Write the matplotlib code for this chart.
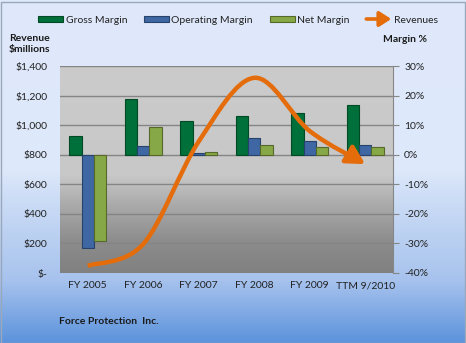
import numpy as np
import matplotlib
matplotlib.use("Agg")
import matplotlib.pyplot as plt
from matplotlib.path import Path
from matplotlib.patches import FancyArrowPatch, Rectangle
from matplotlib.legend_handler import HandlerPatch
from matplotlib.colors import to_rgb

# ---------------- data ----------------
categories = ["FY 2005", "FY 2006", "FY 2007", "FY 2008", "FY 2009", "TTM 9/2010"]
gross_margin = [6.3, 18.8, 11.4, 13.2, 14.2, 16.7]        # %
operating_margin = [-31.5, 3.0, 0.5, 5.5, 4.6, 3.2]       # %
net_margin = [-29.2, 9.3, 0.8, 3.3, 2.7, 2.7]             # %
revenues = [49, 196, 890, 1320, 960, 736]                 # $ millions
rev_ticks = [0, 200, 400, 600, 800, 1000, 1200, 1400]
margin_ticks = [-40, -30, -20, -10, 0, 10, 20, 30]

plt.rcParams['font.family'] = ['Lato', 'DejaVu Sans']
FS = 7.5
W, H = 466, 343
ORANGE = "#e46c0a"
fig = plt.figure(figsize=(W / 100, H / 100), dpi=100)

# ---- figure background gradient ----
bg = fig.add_axes([0, 0, 1, 1], zorder=-10)
bg.set_axis_off()
stops_y = [0, 170, 200, 260, 280, 300, 343]
stops_c = ["#dfe9fa", "#dde8fa", "#cbdcf6", "#b0c9ef", "#a6c2ed", "#8fb3e8", "#5a92db"]
ys = np.arange(H)
cols = np.array([to_rgb(c) for c in stops_c])
grad = np.stack([np.interp(ys, stops_y, cols[:, k]) for k in range(3)], axis=1)
bg.imshow(grad[:, None, :], aspect='auto', extent=[0, 1, 0, 1], transform=bg.transAxes)
bg.set_xlim(0, 1); bg.set_ylim(0, 1)
fig.patches.append(Rectangle((0.5 / W, 0.5 / H), 1 - 2 / W, 1 - 2 / H, transform=fig.transFigure,
                             fill=False, edgecolor="#9aa8bb", lw=1, zorder=20))

# ---- plot area ----
L, R, T, B = 60, 393, 66, 273
ax = fig.add_axes([L / W, (H - B) / H, (R - L) / W, (B - T) / H])
py = [0, 108, 135, 175, 207]
pc = ["#cbcbcb", "#c8c8c8", "#adadad", "#8c8c8c", "#808080"]
pys = np.arange(B - T)
pcols = np.array([to_rgb(c) for c in pc])
pgrad = np.stack([np.interp(pys, py, pcols[:, k]) for k in range(3)], axis=1)
ax.imshow(pgrad[:, None, :], aspect='auto', extent=[0, 1, 0, 1], transform=ax.transAxes, zorder=-5)

x = np.arange(len(categories))
bw = 0.22
kw = dict(linewidth=0.8, zorder=3)
ax.bar(x - bw, gross_margin, bw, color="#00703a", edgecolor="#004a25", **kw)
ax.bar(x, operating_margin, bw, color="#3e67a3", edgecolor="#27426b", **kw)
ax.bar(x + bw, net_margin, bw, color="#87a846", edgecolor="#56692b", **kw)

ax.set_xlim(-0.5, len(categories) - 0.5)
ax.set_ylim(margin_ticks[0], margin_ticks[-1])
ax.set_xticks(x)
ax.set_xticklabels(categories)
ax.tick_params(axis='x', length=0, pad=6, labelsize=FS, labelcolor="#222222")
ax.grid(axis='y', color="#858585", lw=1.0)
ax.set_axisbelow(True)
for s in ["left", "top", "bottom"]:
    ax.spines[s].set_visible(False)
ax.spines["right"].set_color("#868686")

# ---- revenue axis (left) ----
ax2 = ax.twinx()
ax2.patch.set_visible(False)
ax2.set_ylim(rev_ticks[0], rev_ticks[-1])
ax2.set_yticks(rev_ticks)
ax2.set_yticklabels(["$-" if t == 0 else f"${t:,}" for t in rev_ticks])
ax2.yaxis.tick_left()
ax2.tick_params(axis='y', length=0, pad=9, labelsize=FS, labelcolor="#222222",
                right=False, labelright=False, left=True, labelleft=True)
for s in ax2.spines.values():
    s.set_visible(False)

# margin axis on the right (set after twinx)
ax.set_yticks(margin_ticks)
ax.set_yticklabels([f"{t}%" for t in margin_ticks])
ax.yaxis.tick_right()
ax.tick_params(axis='y', length=4, width=0.8, color="#868686", pad=4, labelsize=FS,
               labelcolor="#222222", left=False, labelleft=False, right=True, labelright=True)

# smoothed revenue line (Excel-like smoothed line)
P = np.column_stack([x, revenues]).astype(float)
n = len(P)
verts = [P[0]]
codes = [Path.MOVETO]
for i in range(n - 1):
    p0 = P[i - 1] if i > 0 else P[i]
    p1, p2 = P[i], P[i + 1]
    p3 = P[i + 2] if i + 2 < n else P[i + 1]
    c1 = p1 + (p2 - p0) / 6
    c2 = p2 - (p3 - p1) / 6
    verts += [c1, c2, p2]
    codes += [Path.CURVE4] * 3
arrow = FancyArrowPatch(path=Path(verts, codes), arrowstyle="-|>,head_length=0.55,head_width=0.3",
                        mutation_scale=20, lw=3.2, color=ORANGE, zorder=5,
                        shrinkA=0, shrinkB=0, joinstyle='round', capstyle='butt')
ax2.add_patch(arrow)

# ---- legend ----
def make_bar(legend, orig_handle, xdescent, ydescent, width, height, fontsize):
    return Rectangle((-xdescent, height / 2 - ydescent - 2.2), width, 4.4)

def make_arrow(legend, orig_handle, xdescent, ydescent, width, height, fontsize):
    return FancyArrowPatch((-xdescent, height / 2 - ydescent), (width - xdescent, height / 2 - ydescent),
                           arrowstyle="-|>,head_length=0.5,head_width=0.32", mutation_scale=14,
                           shrinkA=0, shrinkB=0)

h1 = Rectangle((0, 0), 1, 1, facecolor="#00703a", edgecolor="#004a25", lw=0.8)
h2 = Rectangle((0, 0), 1, 1, facecolor="#3e67a3", edgecolor="#27426b", lw=0.8)
h3 = Rectangle((0, 0), 1, 1, facecolor="#87a846", edgecolor="#56692b", lw=0.8)
h4 = FancyArrowPatch((0, 0), (1, 0), color=ORANGE, lw=2.6)
fig.legend([h1, h2, h3, h4], ["Gross Margin", "Operating Margin", "Net Margin", "Revenues"],
           handler_map={h1: HandlerPatch(patch_func=make_bar), h2: HandlerPatch(patch_func=make_bar),
                        h3: HandlerPatch(patch_func=make_bar), h4: HandlerPatch(patch_func=make_arrow)},
           loc='center', bbox_to_anchor=(238 / W, 1 - 20 / H), ncol=4, frameon=False,
           fontsize=FS, handlelength=2.4, handletextpad=0.25, columnspacing=1.6,
           labelcolor="#222222")

# ---- texts ----
fig.text(9 / W, 1 - 34 / H, "Revenue\n$millions", ha='left', va='top', fontsize=FS,
         fontweight='bold', color="#1a1a1a", linespacing=1.25)
fig.text(383 / W, 1 - 40 / H, "Margin %", ha='left', va='center', fontsize=FS,
         fontweight='bold', color="#1a1a1a")
fig.text(59 / W, 1 - 322 / H, "Force Protection  Inc.", ha='left', va='center', fontsize=FS,
         fontweight='bold', color="#1a1a1a")

fig.savefig("out.png", dpi=100)
